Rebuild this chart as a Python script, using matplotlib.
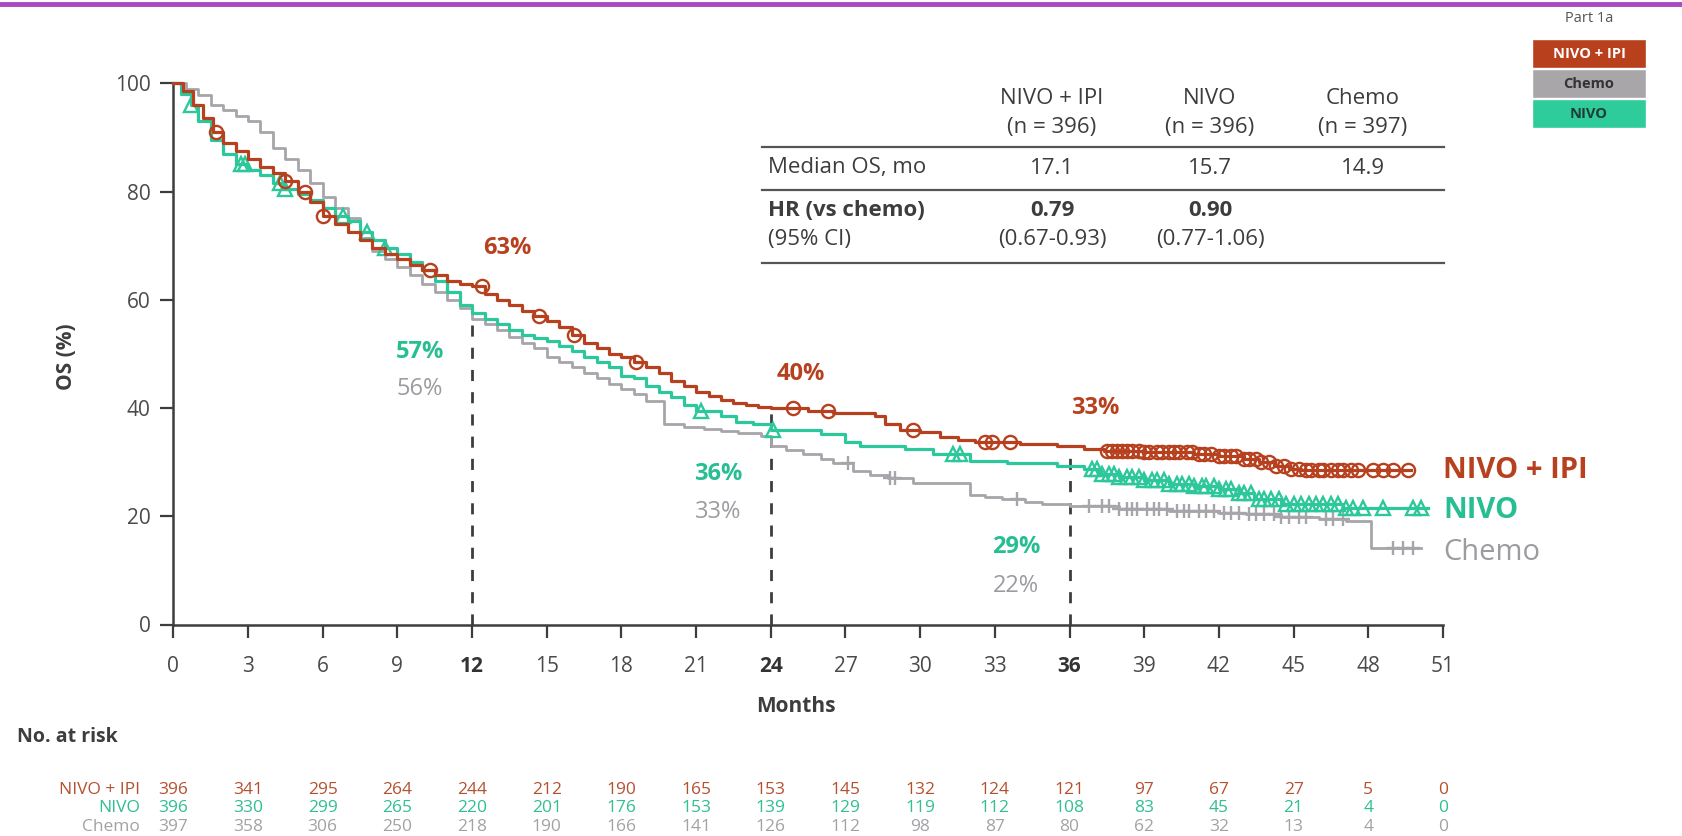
import numpy as np
import matplotlib.pyplot as plt
from matplotlib.lines import Line2D
from matplotlib.patches import Rectangle
from matplotlib.transforms import blended_transform_factory

plt.rcParams['font.family'] = ['Open Sans', 'DejaVu Sans']

# ---- KM curves (months, OS %) ----
nivoipi_t = [0, 0.4, 0.8, 1.2, 1.6, 2.0, 2.5, 3.0, 3.5, 4.0, 4.5, 5.0, 5.5, 6.0, 6.5, 7.0,
             7.5, 8.0, 8.5, 9.0, 9.5, 10.0, 10.5, 11.0, 11.5, 12.0, 12.5, 13.0, 13.5, 14.0,
             14.5, 15.0, 15.5, 16.0, 16.5, 17.0, 17.5, 18.0, 18.5, 19.0, 19.5, 20.0, 20.5,
             21.0, 21.5, 22.0, 22.5, 23.0, 23.5, 24.0, 25.5, 26.5, 28.2, 28.6, 29.2, 30.0,
             30.8, 31.5, 32.2, 34.0, 35.5, 36.6, 37.4, 39.0, 41.0, 42.0, 43.0, 43.6, 44.2,
             44.8, 45.3]
nivoipi_s = [100, 98.5, 96, 93.5, 91, 89, 87.5, 86, 84.5, 83.5, 82, 80, 78, 75.5, 74, 72.5,
             71, 69.5, 68.5, 67.5, 66.5, 65.5, 64.5, 63.5, 63, 62.5, 61, 60, 59, 58,
             57, 56, 55, 53.5, 52, 51, 50, 49.5, 48.5, 47.5, 46.5, 45, 44,
             43, 42.2, 41.5, 41, 40.5, 40.2, 40, 39.5, 39, 38.5, 37, 36, 35.5,
             34.7, 34, 33.7, 33.3, 33, 32.4, 32, 31.8, 31.5, 31.2, 30.6, 30, 29.3,
             28.8, 28.5]
nivoipi_end = 49.7
nivoipi_cens = [1.7, 4.5, 5.3, 6.0, 10.3, 12.4, 14.7, 16.1, 18.6, 24.9, 26.3, 29.7, 32.6,
                32.9, 33.6, 37.5, 37.7, 37.9, 38.1, 38.3, 38.5, 38.8, 39.0, 39.2, 39.5,
                39.7, 40.0, 40.2, 40.4, 40.7, 40.9, 41.2, 41.4, 41.7, 42.0, 42.2, 42.5,
                42.7, 43.0, 43.2, 43.5, 43.7, 44.0, 44.3, 44.6, 44.9, 45.2, 45.5, 45.7,
                46.0, 46.2, 46.5, 46.8, 47.0, 47.3, 47.6, 48.2, 48.6, 49.0, 49.6]

nivo_t = [0, 0.3, 0.7, 1.0, 1.5, 2.0, 2.5, 3.0, 3.5, 4.0, 4.5, 5.0, 5.5, 6.0, 6.5, 7.0,
          7.5, 8.0, 8.5, 9.0, 9.5, 10.0, 10.5, 11.0, 11.5, 12.0, 12.5, 13.0, 13.5, 14.0,
          14.5, 15.0, 15.5, 16.0, 16.5, 17.0, 17.5, 18.0, 18.5, 19.0, 19.5, 20.0, 20.5,
          21.0, 22.0, 22.6, 23.3, 24.0, 24.5, 26.0, 27.0, 27.6, 29.4, 30.5, 32.0, 33.5,
          35.5, 36.6, 37.2, 38.0, 39.0, 40.0, 41.0, 42.0, 42.8, 43.4, 44.5, 47.0]
nivo_s = [100, 98, 96, 93, 89.5, 87, 85, 84, 83, 81.5, 80.5, 79.5, 78.5, 77, 75.5, 74.5,
          72.5, 71, 69.5, 68.5, 67, 65.5, 63.5, 61.5, 59, 57.5, 56.5, 55.5, 54.5, 53.5,
          53, 52.4, 51.5, 50.5, 49.5, 48.5, 47.5, 46, 45.5, 44, 43, 42, 40.5,
          39.5, 38.5, 37.5, 37, 36, 36, 35.2, 33.8, 33, 32.4, 31.5, 30.2, 29.8,
          29.3, 28.7, 27.8, 27.2, 26.7, 26, 25.5, 25, 24.3, 23.2, 22.3, 21.5]
nivo_end = 50.4
nivo_cens = [0.7, 2.7, 2.9, 4.3, 4.5, 6.8, 7.8, 8.5, 21.2, 24.1, 31.3, 31.6, 36.9, 37.1,
             37.3, 37.6, 37.8, 38.0, 38.3, 38.5, 38.8, 39.0, 39.3, 39.5, 39.8, 40.0, 40.3,
             40.5, 40.8, 41.0, 41.3, 41.5, 41.8, 42.0, 42.3, 42.5, 42.8, 43.0, 43.3, 43.6,
             43.8, 44.1, 44.4, 44.7, 45.0, 45.3, 45.6, 45.9, 46.2, 46.5, 46.8, 47.1, 47.4,
             47.8, 48.6, 49.8, 50.1]

chemo_t = [0, 0.5, 1.0, 1.5, 2.0, 2.5, 3.0, 3.5, 4.0, 4.5, 5.0, 5.5, 6.0, 6.5, 7.0, 7.5,
           8.0, 8.5, 9.0, 9.5, 10.0, 10.5, 11.0, 11.5, 12.0, 12.5, 13.0, 13.5, 14.0, 14.5,
           15.0, 15.5, 16.0, 16.5, 17.0, 17.5, 18.0, 18.5, 19.0, 19.7, 20.5, 21.3, 22.0,
           22.7, 23.6, 24.0, 24.6, 25.3, 26.0, 26.5, 27.3, 28.0, 28.7, 29.7, 32.0, 32.6,
           33.3, 34.2, 34.9, 36.0, 38.0, 40.0, 42.0, 43.1, 44.5, 46.0, 47.1, 48.1]
chemo_s = [100, 99, 97.8, 96, 95, 94, 93, 91, 88, 86, 84, 81.5, 79, 77, 75.2, 71.5,
           69, 67.5, 66, 64.5, 63, 61.5, 60, 58.5, 56.5, 55.5, 54.5, 53.2, 52, 51,
           49.5, 48.5, 47.5, 46.5, 45.5, 44.5, 43.5, 42.5, 41.3, 37, 36.5, 36.1, 35.7,
           35.4, 34.8, 33, 32.3, 31.5, 30.5, 29.8, 28.3, 27.6, 27, 26.1, 24, 23.5,
           23.1, 22.6, 22.2, 21.9, 21.3, 21, 20.6, 20.4, 19.8, 19.5, 19.2, 14.1]
chemo_end = 50.1
chemo_cens = [27.1, 28.8, 29.0, 33.9, 36.8, 37.3, 37.6, 38.0, 38.3, 38.5, 38.7, 39.1, 39.4,
              39.6, 39.9, 40.3, 40.6, 40.8, 41.2, 41.5, 41.8, 42.2, 42.5, 42.8, 43.2, 43.5,
              43.8, 44.2, 44.5, 44.8, 45.2, 45.5, 46.3, 46.6, 47.0, 49.0, 49.4, 49.8]

# ---- summary table / landmarks / at-risk ----
arms = ['NIVO + IPI', 'NIVO', 'Chemo']
arm_n = ['(n = 396)', '(n = 396)', '(n = 397)']
median_os = ['17.1', '15.7', '14.9']
hr = ['0.79', '0.90', '']
hr_ci = ['(0.67-0.93)', '(0.77-1.06)', '']

landmarks = [12, 24, 36]
land_nivoipi = ['63%', '40%', '33%']
land_nivo = ['57%', '36%', '29%']
land_chemo = ['56%', '33%', '22%']

risk_months = list(range(0, 52, 3))
risk_nivoipi = [396, 341, 295, 264, 244, 212, 190, 165, 153, 145, 132, 124, 121, 97, 67, 27, 5, 0]
risk_nivo = [396, 330, 299, 265, 220, 201, 176, 153, 139, 129, 119, 112, 108, 83, 45, 21, 4, 0]
risk_chemo = [397, 358, 306, 250, 218, 190, 166, 141, 126, 112, 98, 87, 80, 62, 32, 13, 4, 0]

RED = '#B7411F'
TEAL = '#2CC79A'
GREY = '#A8A5AA'
DARK = '#3d3d3d'

W, H = 1683, 836
fig = plt.figure(figsize=(W / 100, H / 100), dpi=100)
ax = fig.add_axes([173.3 / W, 1 - 624.5 / H, (1443 - 173.3) / W, (624.5 - 83.3) / H])


def fy(y):
    return 1 - y / H


def km_at(t, s, x):
    idx = np.searchsorted(np.asarray(t), np.asarray(x), side='right') - 1
    return np.asarray(s)[idx]


def draw_arm(t, s, end, cens, color, marker, ms, lw, z):
    ax.step(list(t) + [end], list(s) + [s[-1]], where='post', color=color, lw=lw,
            zorder=z, clip_on=False)
    ax.plot(cens, km_at(t, s, cens), ls='none', marker=marker, ms=ms, mfc='none',
            mec=color, mew=1.7, zorder=z, clip_on=False)


draw_arm(chemo_t, chemo_s, chemo_end, chemo_cens, GREY, '+', 10, 2.0, 3)
draw_arm(nivo_t, nivo_s, nivo_end, nivo_cens, TEAL, '^', 10, 2.3, 4)
draw_arm(nivoipi_t, nivoipi_s, nivoipi_end, nivoipi_cens, RED, 'o', 9.5, 2.3, 5)

# landmark dashed lines
land_top = [56, 40, 33]
for m, top in zip(landmarks, land_top):
    ax.plot([m, m], [0, top], color=DARK, lw=2, ls=(0, (4, 4)), zorder=2)

ann_pos = [(13.4, 69.6, 9.9, 50.4, 43.6), (25.2, 46.2, 21.9, 27.8, 20.8), (37.05, 40.0, 33.85, 14.3, 7.1)]
for i, (rx, ry, gx, ty, cy) in enumerate(ann_pos):
    ax.text(rx, ry, land_nivoipi[i], color=RED, fontsize=17, fontweight='bold', ha='center', va='center')
    ax.text(gx, ty, land_nivo[i], color='#27BF92', fontsize=17, fontweight='bold', ha='center', va='center')
    ax.text(gx, cy, land_chemo[i], color='#9d9b9f', fontsize=17, ha='center', va='center')

ax.text(51.0, 28.5, arms[0], color=RED, fontsize=21, fontweight='bold', va='center', clip_on=False)
ax.text(51.0, 21.0, arms[1], color='#27BF92', fontsize=21, fontweight='bold', va='center', clip_on=False)
ax.text(51.0, 13.3, arms[2], color='#9d9b9f', fontsize=21, va='center', clip_on=False)

ax.set_xlim(0, 51)
ax.set_ylim(0, 100)
ax.set_xticks(risk_months)
ax.set_yticks(range(0, 101, 20))
ax.tick_params(axis='both', length=9.5, width=1.6, color=DARK, labelsize=15, labelcolor='#4a4a4a')
ax.tick_params(axis='x', pad=13)
ax.tick_params(axis='y', pad=7)
for lab in ax.get_xticklabels():
    if lab.get_text() in ('12', '24', '36'):
        lab.set_fontweight('bold')
        lab.set_color('#333333')
for side in ('top', 'right'):
    ax.spines[side].set_visible(False)
for side in ('left', 'bottom'):
    ax.spines[side].set_color(DARK)
    ax.spines[side].set_linewidth(1.8)

fig.text(67 / W, fy(357), 'OS (%)', rotation=90, fontsize=15, fontweight='bold', color=DARK,
         ha='center', va='center')
fig.text(796 / W, fy(707), 'Months', fontsize=15, fontweight='bold', color=DARK,
         ha='center', va='center')

# summary table
col_x = [1052, 1210, 1363]
for x, a, n, med, h, ci in zip(col_x, arms, arm_n, median_os, hr, hr_ci):
    fig.text(x / W, fy(99), a, fontsize=16, color=DARK, ha='center', va='center')
    fig.text(x / W, fy(127), n, fontsize=16, color=DARK, ha='center', va='center')
    fig.text(x / W, fy(168), med, fontsize=16, color=DARK, ha='center', va='center')
    fig.text(x / W, fy(210), h, fontsize=16, color=DARK, fontweight='bold', ha='center', va='center')
    fig.text(x / W, fy(239), ci, fontsize=16, color=DARK, ha='center', va='center')
fig.text(768 / W, fy(168), 'Median OS, mo', fontsize=16, color=DARK, va='center')
fig.text(768 / W, fy(210), 'HR (vs chemo)', fontsize=16, color=DARK, fontweight='bold', va='center')
fig.text(768 / W, fy(239), '(95% CI)', fontsize=16, color=DARK, va='center')
for y in (147, 190, 263):
    fig.add_artist(Line2D([762 / W, 1444 / W], [fy(y), fy(y)], color='#555555', lw=1.6))

# number at risk
tr = blended_transform_factory(ax.transData, fig.transFigure)
fig.text(17 / W, fy(737), 'No. at risk', fontsize=14, fontweight='bold', color=DARK, va='center')
risk_rows = [(arms[0], risk_nivoipi, '#B4502E', 790), (arms[1], risk_nivo, '#30BE93', 808.5),
             (arms[2], risk_chemo, '#a3a1a5', 827)]
for name, vals, c, y in risk_rows:
    fig.text(140 / W, fy(y), name, fontsize=12.5, color=c, ha='right', va='center')
    for m, v in zip(risk_months, vals):
        ax.text(m, fy(y), str(v), transform=tr, fontsize=12.5, color=c, ha='center', va='center')

# top rule and part legend
fig.add_artist(Line2D([0, 1], [fy(4), fy(4)], color='#A84BBE', lw=3.5))
fig.text(1589 / W, fy(19), 'Part 1a', fontsize=10.5, color='#555555', ha='center', va='center')
box_rows = [('NIVO + IPI', '#B8401C', 'white'), ('Chemo', '#A9A6A9', '#333333'), ('NIVO', '#2ECC9A', '#1e3d33')]
for i, (lab, bg, fg) in enumerate(box_rows):
    y0 = 39 + i * 30
    fig.add_artist(Rectangle((1532 / W, fy(y0 + 29)), (1646 - 1532) / W, 29 / H,
                             facecolor=bg, edgecolor='white', lw=1, transform=fig.transFigure))
    fig.text(1589 / W, fy(y0 + 14.5), lab, fontsize=10.5, fontweight='bold', color=fg,
             ha='center', va='center')

fig.savefig('out.png', dpi=100)
